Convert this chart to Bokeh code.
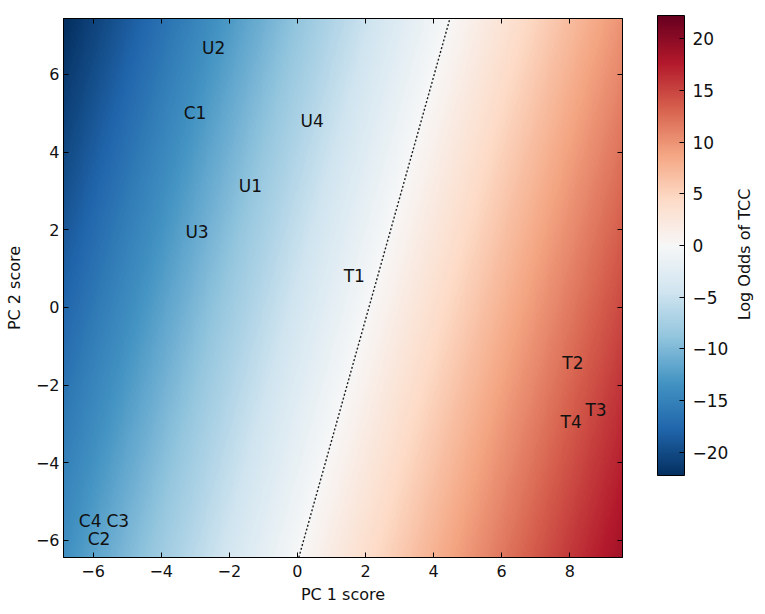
import numpy as np
from bokeh.plotting import figure
from bokeh.layouts import row
from bokeh.models import (LinearColorMapper, ColorBar, FixedTicker, LinearAxis,
                          Range1d, ColumnDataSource, CustomJSTickFormatter, Label)
from bokeh.embed import file_html
from bokeh.resources import INLINE
from bokeh.core.properties import value

# ---------------- data ----------------
sample_names = ["U2", "C1", "U4", "U1", "U3", "T1", "T2", "T3", "T4", "C4", "C3", "C2"]
pc1_scores = [-2.80, -3.34, 0.09, -1.72, -3.29, 1.36, 7.78, 8.46, 7.73, -6.42, -5.61, -6.16]
pc2_scores = [6.68, 5.00, 4.80, 3.12, 1.94, 0.80, -1.43, -2.63, -2.95, -5.49, -5.49, -5.96]

# logistic model: log odds = intercept + coef_pc1*PC1 + coef_pc2*PC2
intercept = -4.14
coef_pc1 = 1.97
coef_pc2 = -0.63

x_limits = [-6.87, 9.55]
y_limits = [-6.44, 7.44]
x_ticks = [-6, -4, -2, 0, 2, 4, 6, 8]
y_ticks = [-6, -4, -2, 0, 2, 4, 6]
cbar_limits = [-22.25, 22.25]
cbar_ticks = [-20, -15, -10, -5, 0, 5, 10, 15, 20]

# ---------------- palette (RdBu reversed) ----------------
anchors = ["#053061", "#2166ac", "#4393c3", "#92c5de", "#d1e5f0", "#f7f7f7",
           "#fddbc7", "#f4a582", "#d6604d", "#b2182b", "#67001f"]


def interp_palette(cols, n):
    rgb = np.array([[int(c[i:i + 2], 16) for i in (1, 3, 5)] for c in cols], float)
    pos = np.linspace(0, 1, len(cols))
    t = np.linspace(0, 1, n)
    out = []
    for tt in t:
        r = np.interp(tt, pos, rgb[:, 0])
        g = np.interp(tt, pos, rgb[:, 1])
        b = np.interp(tt, pos, rgb[:, 2])
        out.append("#%02x%02x%02x" % (int(round(r)), int(round(g)), int(round(b))))
    return out


palette = interp_palette(anchors, 256)
mapper = LinearColorMapper(palette=palette, low=cbar_limits[0], high=cbar_limits[1])

# ---------------- model surface ----------------
gx = np.linspace(x_limits[0], x_limits[1], 300)
gy = np.linspace(y_limits[0], y_limits[1], 300)
GX, GY = np.meshgrid(gx, gy)
Z = intercept + coef_pc1 * GX + coef_pc2 * GY

boundary_y = np.array(y_limits)
boundary_x = -(intercept + coef_pc2 * boundary_y) / coef_pc1

FONT = "DejaVu Sans"
FS = "16px"
minus_fmt = "return tick.toString().replace('-', '\\u2212');"

H = 612
FRAME_BOTTOM = 557
p = figure(width=640, height=H, x_range=Range1d(*x_limits), y_range=Range1d(*y_limits),
           output_backend="svg", toolbar_location=None,
           min_border_left=63, min_border_top=18, min_border_bottom=H - FRAME_BOTTOM,
           min_border_right=18)
p.grid.visible = False
p.outline_line_color = "black"
p.background_fill_color = "white"

p.image(image=[Z], x=x_limits[0], y=y_limits[0],
        dw=x_limits[1] - x_limits[0], dh=y_limits[1] - y_limits[0], color_mapper=mapper)

p.line(boundary_x, boundary_y, line_color="#222222", line_width=1.4, line_dash="2 2")

src = ColumnDataSource(dict(x=pc1_scores, y=pc2_scores, name=sample_names))
p.text(x="x", y="y", text="name", source=src, text_font=value(FONT),
       text_font_size="17px", text_color="#111111", text_align="left",
       text_baseline="alphabetic")

for ax, ticks, lab in ((p.xaxis[0], x_ticks, "PC 1 score"), (p.yaxis[0], y_ticks, "PC 2 score")):
    ax.ticker = FixedTicker(ticks=ticks)
    ax.formatter = CustomJSTickFormatter(code=minus_fmt)
    ax.axis_label = lab
    ax.axis_label_text_font = FONT
    ax.axis_label_text_font_size = FS
    ax.axis_label_text_font_style = "normal"
    ax.axis_label_text_color = "#111111"
    ax.major_label_text_font = FONT
    ax.major_label_text_font_size = FS
    ax.major_label_text_color = "#111111"
    ax.major_tick_in = 5
    ax.major_tick_out = 0
    ax.minor_tick_line_color = None
    ax.axis_line_color = "black"
    ax.major_tick_line_color = "black"
p.xaxis[0].major_label_standoff = 7
p.xaxis[0].axis_label_standoff = 5
p.yaxis[0].major_label_standoff = 4
p.yaxis[0].axis_label_standoff = 9

for side, ticks in (("above", x_ticks), ("right", y_ticks)):
    ax = LinearAxis(ticker=FixedTicker(ticks=ticks),
                    formatter=CustomJSTickFormatter(code="return '';"),
                    major_tick_in=5, major_tick_out=0, minor_tick_line_color=None,
                    major_label_standoff=0, axis_line_color="black",
                    major_tick_line_color="black")
    p.add_layout(ax, side)

# ---------------- colour bar panel ----------------
p2 = figure(width=120, height=H, x_range=Range1d(0, 1), y_range=Range1d(0, 1),
            output_backend="svg", toolbar_location=None,
            x_axis_type=None, y_axis_type=None,
            min_border_left=0, min_border_right=0, min_border_top=0, min_border_bottom=0)
p2.grid.visible = False
p2.outline_line_color = None

# positions measured from the bottom of the (row-aligned) frame
cbar = ColorBar(color_mapper=mapper, ticker=FixedTicker(ticks=cbar_ticks),
                formatter=CustomJSTickFormatter(code=minus_fmt),
                width=27, height=460, location=(17, FRAME_BOTTOM - 475), padding=0, margin=0,
                bar_line_color="black", major_tick_line_color="black",
                major_tick_in=5, major_tick_out=0, minor_tick_line_color=None,
                label_standoff=8, major_label_text_font=FONT,
                major_label_text_font_size="17px", major_label_text_color="#111111",
                border_line_color=None, background_fill_color=None)
p2.add_layout(cbar)

p2.add_layout(Label(x=104, y=FRAME_BOTTOM - 254, x_units="screen", y_units="screen",
                    angle=np.pi / 2, text="Log Odds of TCC", text_font=FONT,
                    text_font_size="16px", text_color="#111111",
                    text_align="center", text_baseline="middle"))

layout = row(p, p2)
open("out.html", "w", encoding="utf-8").write(file_html(layout, INLINE))
